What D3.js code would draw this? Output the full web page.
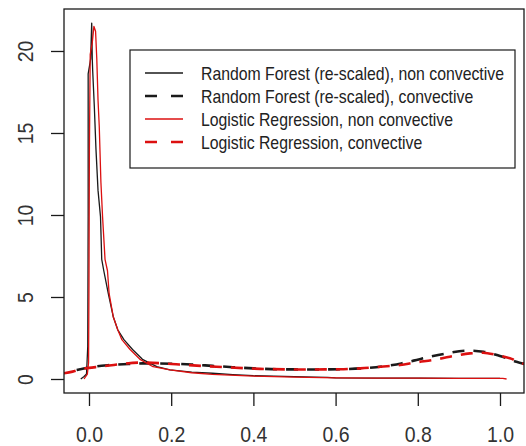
<!DOCTYPE html>
<html>
<head>
<meta charset="utf-8">
<script src="https://cdn.jsdelivr.net/npm/d3@7"></script>
<style>
  body { margin: 0; background: #fff; }
  svg { display: block; font-family: "Liberation Sans", Arial, sans-serif; }
</style>
</head>
<body>
<div id="chart"></div>
<script>
const canvas = { w: 526, h: 446 };

// plot region (R style box)
const box = { left: 64, top: 9, right: 524, bottom: 393 };

const xTicks = [0, 0.2, 0.4, 0.6, 0.8, 1.0];
const yTicks = [0, 5, 10, 15, 20];

const legendLabels = [
    "Random Forest (re-scaled), non convective",
    "Random Forest (re-scaled), convective",
    "Logistic Regression, non convective",
    "Logistic Regression, convective"
];

// density curves, [x, density]
const rfNonConv = [
    [-0.02, 0], [-0.012, 0.15], [-0.006, 0.3], [-0.003, 2], [-0.002, 10], [-0.002, 18.6],
    [0.004, 19.5], [0.0066, 21.7], [0.008, 19.5], [0.009, 18.8], [0.013, 16.6], [0.017, 14],
    [0.022, 11.5], [0.028, 9.9], [0.031, 7.3], [0.036, 6.6], [0.047, 5.2], [0.059, 3.8],
    [0.07, 3.0], [0.085, 2.4], [0.106, 1.8], [0.13, 1.2], [0.165, 0.75], [0.197, 0.55],
    [0.25, 0.42], [0.3, 0.35], [0.35, 0.27], [0.4, 0.2], [0.45, 0.17], [0.5, 0.14],
    [0.55, 0.12], [0.58, 0.1], [0.6, 0.07], [0.7, 0.05], [0.8, 0.05], [0.9, 0.04],
    [1.0, 0.04]
];
const rfConv = [
    [-0.03, 0.55], [-0.01, 0.65], [0.02, 0.78], [0.05, 0.85], [0.1, 0.92], [0.13, 0.95],
    [0.2, 0.93], [0.25, 0.88], [0.3, 0.8], [0.35, 0.72], [0.4, 0.65], [0.47, 0.59],
    [0.55, 0.58], [0.62, 0.6], [0.68, 0.68], [0.72, 0.79], [0.76, 0.95], [0.79, 1.12],
    [0.83, 1.36], [0.87, 1.56], [0.92, 1.73], [0.96, 1.66], [1.0, 1.4], [1.04, 1.05], [1.06, 0.91]
];
const lrNonConv = [
    [-0.012, 0], [-0.004, 0.3], [-0.001, 1], [0.0, 6], [0.001, 14], [0.003, 19.8],
    [0.008, 20.5], [0.012, 21.5], [0.016, 21.2], [0.019, 19.5], [0.022, 17], [0.025, 15.4],
    [0.029, 12], [0.033, 9.9], [0.039, 7.3], [0.045, 6.6], [0.049, 5.2], [0.059, 3.8],
    [0.07, 3.0], [0.08, 2.4], [0.1, 1.8], [0.124, 1.2], [0.156, 0.75], [0.197, 0.55],
    [0.25, 0.38], [0.3, 0.28], [0.4, 0.17], [0.5, 0.11], [0.6, 0.07], [0.7, 0.05],
    [0.8, 0.05], [0.9, 0.04], [1.007, 0.04], [1.016, 0]
];
const lrConv = [
    [-0.061, 0.35], [-0.04, 0.45], [-0.02, 0.6], [0.0, 0.68], [0.027, 0.75], [0.075, 0.9],
    [0.124, 1.0], [0.17, 0.97], [0.22, 0.88], [0.31, 0.75], [0.416, 0.62], [0.52, 0.58],
    [0.61, 0.59], [0.66, 0.65], [0.71, 0.75], [0.757, 0.85], [0.797, 1.02], [0.837, 1.16],
    [0.878, 1.36], [0.927, 1.56], [0.959, 1.6], [0.992, 1.46], [1.024, 1.26], [1.056, 0.95], [1.06, 0.92]
];

const red = "#dc1010";
const ink = "#1a1a1a";

const series = [
    { data: rfNonConv, color: ink, dash: null, width: 1.3, curve: d3.curveLinear },
    { data: rfConv, color: ink, dash: "12,9", width: 2.6, curve: d3.curveMonotoneX },
    { data: lrNonConv, color: red, dash: null, width: 1.3, curve: d3.curveLinear },
    { data: lrConv, color: red, dash: "12,9", width: 2.6, curve: d3.curveMonotoneX }
];

const x = d3.scaleLinear()
    .domain([-0.0608, 1.0584])
    .range([box.left, box.right]);

const y = d3.scaleLinear()
    .domain([-0.854, 22.56])
    .range([box.bottom, box.top]);

const svg = d3.select("#chart")
    .append("svg")
    .attr("width", canvas.w)
    .attr("height", canvas.h)
    .attr("viewBox", `0 0 ${canvas.w} ${canvas.h}`);

svg.append("defs")
    .append("clipPath")
    .attr("id", "plotclip")
    .append("rect")
    .attr("x", box.left)
    .attr("y", box.top)
    .attr("width", box.right - box.left)
    .attr("height", box.bottom - box.top);

// curves
const lines = svg.append("g").attr("clip-path", "url(#plotclip)");

series.forEach(s => {
    const line = d3.line()
        .x(d => x(d[0]))
        .y(d => y(d[1]))
        .curve(s.curve);
    lines.append("path")
        .datum(s.data)
        .attr("d", line)
        .attr("fill", "none")
        .attr("stroke", s.color)
        .attr("stroke-width", s.width)
        .attr("stroke-dasharray", s.dash)
        .attr("stroke-linejoin", "round");
});

// box
svg.append("rect")
    .attr("x", box.left)
    .attr("y", box.top)
    .attr("width", box.right - box.left)
    .attr("height", box.bottom - box.top)
    .attr("fill", "none")
    .attr("stroke", ink)
    .attr("stroke-width", 1.3);

// axes
const xAxis = svg.append("g")
    .attr("transform", `translate(0,${box.bottom})`)
    .call(d3.axisBottom(x).tickValues(xTicks).tickSize(13).tickFormat(d3.format(".1f")));

xAxis.select(".domain").remove();
xAxis.selectAll(".tick line").attr("stroke", ink).attr("stroke-width", 1.3);
xAxis.selectAll(".tick text")
    .attr("y", null)
    .attr("dy", null)
    .attr("fill", "#333")
    .attr("font-size", 19.5)
    .attr("transform", "translate(0,49) scale(1,1.1)");

const yAxis = svg.append("g")
    .attr("transform", `translate(${box.left},0)`)
    .call(d3.axisLeft(y).tickValues(yTicks).tickSize(13));

yAxis.select(".domain").remove();
yAxis.selectAll(".tick line").attr("stroke", ink).attr("stroke-width", 1.3);
yAxis.selectAll(".tick text")
    .attr("x", null)
    .attr("dy", null)
    .attr("fill", "#333")
    .attr("font-size", 19.5)
    .attr("text-anchor", "middle")
    .attr("transform", `translate(${33 - box.left},0) rotate(-90) scale(1,1.1)`);

// legend
const legend = svg.append("g");

legend.append("rect")
    .attr("x", 130)
    .attr("y", 50)
    .attr("width", 385)
    .attr("height", 118)
    .attr("fill", "#fff")
    .attr("stroke", ink)
    .attr("stroke-width", 1.2);

const rows = legend.selectAll("g.row")
    .data(series)
    .enter()
    .append("g")
    .attr("class", "row")
    .attr("transform", (d, i) => `translate(0,${73 + i * 23})`);

rows.append("line")
    .attr("x1", 145)
    .attr("x2", 183)
    .attr("stroke", d => d.color)
    .attr("stroke-width", d => d.dash ? 2.6 : 1.6)
    .attr("stroke-dasharray", d => d.dash ? "12,14" : null);

rows.append("text")
    .attr("transform", "translate(201,6.5) scale(1,1.16)")
    .attr("font-size", 15.8)
    .attr("fill", "#222")
    .text((d, i) => legendLabels[i]);
</script>
</body>
</html>
